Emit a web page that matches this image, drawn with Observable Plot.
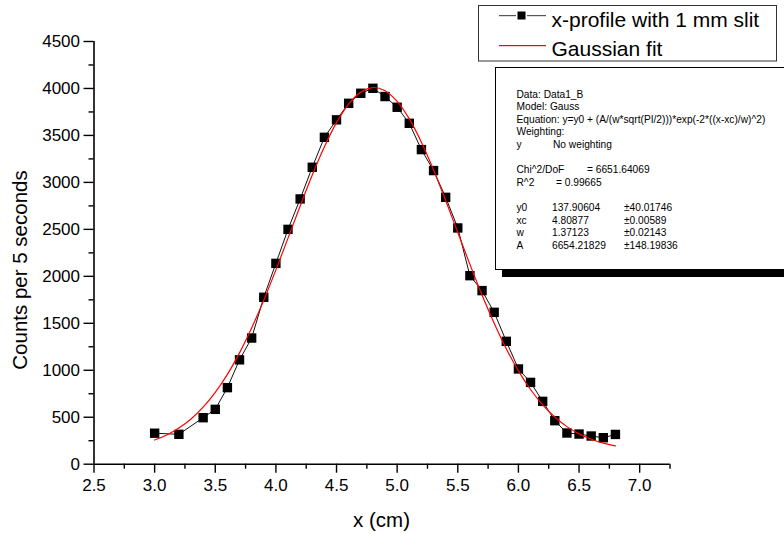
<!DOCTYPE html>
<html>
<head>
<meta charset="utf-8">
<script src="https://cdn.jsdelivr.net/npm/d3@7"></script>
<script src="https://cdn.jsdelivr.net/npm/@observablehq/plot@0.6"></script>
<style>
  html, body { margin: 0; padding: 0; background: #fff; }
  svg { display: block; }
</style>
</head>
<body>
<div id="chart"></div>
<script>
// ---- measured profile (x-profile with 1 mm slit) ----
const profileX = [3.0, 3.2, 3.4, 3.5, 3.6, 3.7, 3.8, 3.9, 4.0, 4.1, 4.2, 4.3, 4.4, 4.5, 4.6, 4.7, 4.8, 4.9,
                  5.0, 5.1, 5.2, 5.3, 5.4, 5.5, 5.6, 5.7, 5.8, 5.9, 6.0, 6.1, 6.2, 6.3, 6.4, 6.5, 6.6, 6.7, 6.8];
const profileY = [330, 318, 495, 584, 815, 1111, 1343, 1777, 2138, 2500, 2824, 3161, 3480, 3666, 3842, 3949, 4002, 3914,
                  3800, 3629, 3349, 3126, 2841, 2515, 2007, 1848, 1617, 1308, 1014, 871, 669, 463, 332, 321, 300, 282, 317];

// ---- Gaussian fit curve ----
const fitX = [3.0, 3.1, 3.2, 3.3, 3.4, 3.5, 3.6, 3.7, 3.8, 3.9, 4.0, 4.1, 4.2, 4.3, 4.4, 4.5, 4.6, 4.7, 4.8, 4.9,
              5.0, 5.1, 5.2, 5.3, 5.4, 5.5, 5.6, 5.7, 5.8, 5.9, 6.0, 6.1, 6.2, 6.3, 6.4, 6.5, 6.6, 6.7, 6.8];
const fitY = [257, 311, 385, 482, 607, 764, 956, 1185, 1450, 1746, 2069, 2407, 2748, 3078, 3379, 3636, 3834, 3961, 4010, 3976,
              3862, 3676, 3428, 3133, 2808, 2467, 2127, 1801, 1500, 1229, 994, 795, 632, 502, 400, 323, 266, 224, 195];

// ---- axes ----
const xMajorTicks = [2.5, 3.0, 3.5, 4.0, 4.5, 5.0, 5.5, 6.0, 6.5, 7.0];
const xMinorTicks = [2.75, 3.25, 3.75, 4.25, 4.75, 5.25, 5.75, 6.25, 6.75, 7.25];
const yMajorTicks = [0, 500, 1000, 1500, 2000, 2500, 3000, 3500, 4000, 4500];
const yMinorTicks = [250, 750, 1250, 1750, 2250, 2750, 3250, 3750, 4250];
const xLabel = "x (cm)";
const yLabel = "Counts per 5 seconds";

// ---- legend ----
const legendLabels = ["x-profile with 1 mm slit", "Gaussian fit"];

// ---- fit report ----
const reportLines = ["Data: Data1_B", "Model: Gauss",
  "Equation: y=y0 + (A/(w*sqrt(PI/2)))*exp(-2*((x-xc)/w)^2)", "Weighting:"];
const weightRow = ["y", "No weighting"];
const chiRow = ["Chi^2/DoF", "= 6651.64069"];
const r2Row = ["R^2", "= 0.99665"];
const paramNames = ["y0", "xc", "w", "A"];
const paramValues = ["137.90604", "4.80877", "1.37123", "6654.21829"];
const paramErrors = ["\u00b140.01746", "\u00b10.00589", "\u00b10.02143", "\u00b1148.19836"];

const profile = profileX.map((x, i) => ({x, y: profileY[i]}));
const fit = fitX.map((x, i) => ({x, y: fitY[i]}));

const FONT = "'Liberation Sans', Arial, Helvetica, sans-serif";

const chart = Plot.plot({
  width: 784,
  height: 534,
  marginLeft: 93.5,
  marginRight: 114.5,
  marginTop: 41,
  marginBottom: 70.3,
  style: {fontFamily: FONT, background: "white", color: "black"},
  x: {domain: [2.5, 7.25]},
  y: {domain: [0, 4500]},
  marks: [
    Plot.axisX(xMajorTicks, {anchor: "bottom", tickSize: 9, tickPadding: 6, fontSize: 17,
      tickFormat: d => d.toFixed(1), label: null, strokeWidth: 1.4}),
    Plot.axisX(xMinorTicks, {anchor: "bottom", tickSize: 5, tickFormat: () => "", label: null, strokeWidth: 1.4}),
    Plot.axisY(yMajorTicks, {anchor: "left", tickSize: 10, tickPadding: 4, fontSize: 17,
      tickFormat: d => String(d), label: null, strokeWidth: 1.4}),
    Plot.axisY(yMinorTicks, {anchor: "left", tickSize: 5, tickFormat: () => "", label: null, strokeWidth: 1.4}),
    Plot.ruleX([2.5], {y1: 0, y2: 4500, stroke: "black", strokeWidth: 1.6}),
    Plot.ruleY([0], {x1: 2.5, x2: 7.25, stroke: "black", strokeWidth: 1.6}),
    Plot.line(profile, {x: "x", y: "y", stroke: "#111", strokeWidth: 1}),
    Plot.dot(profile, {x: "x", y: "y", symbol: "square", r: 5.3, fill: "black", stroke: "none"}),
    Plot.line(fit, {x: "x", y: "y", stroke: "#ff0000", strokeWidth: 1.2, curve: "catmull-rom"})
  ]
});

document.getElementById("chart").appendChild(chart);

// ---- decorations (titles, legend, report) ----
const svg = d3.select(chart);
const deco = svg.append("g").attr("font-family", FONT).attr("fill", "black").attr("text-anchor", "start");

deco.append("text").attr("x", 381.5).attr("y", 527).attr("text-anchor", "middle")
  .attr("font-size", 20.5).text(xLabel);
deco.append("text").attr("transform", "translate(27,270) rotate(-90)").attr("text-anchor", "middle")
  .attr("font-size", 20.5).text(yLabel);

// legend
const lg = deco.append("g");
lg.append("rect").attr("x", 478.5).attr("y", 5.5).attr("width", 298).attr("height", 55.5)
  .style("fill", "white").style("stroke", "#333").style("stroke-width", "1px");
lg.append("rect").attr("x", 499).attr("y", 15).attr("width", 17).attr("height", 1.2).style("fill", "#555").style("stroke", "none");
lg.append("rect").attr("x", 527).attr("y", 15).attr("width", 19).attr("height", 1.2).style("fill", "#555").style("stroke", "none");
lg.append("rect").attr("x", 517.5).attr("y", 11.5).attr("width", 8).attr("height", 8).style("fill", "black").style("stroke", "none");
lg.append("rect").attr("x", 499).attr("y", 45).attr("width", 47).attr("height", 1.2).style("fill", "#ff0000").style("stroke", "none");
lg.append("text").attr("x", 551.5).attr("y", 27).attr("font-size", 21).text(legendLabels[0]);
lg.append("text").attr("x", 551.5).attr("y", 56).attr("font-size", 21).text(legendLabels[1]);

// fit report box
const rb = deco.append("g");
rb.append("rect").attr("x", 502).attr("y", 270).attr("width", 300).attr("height", 7).style("fill", "black").style("stroke", "none");
rb.append("rect").attr("x", 495.5).attr("y", 67.5).attr("width", 300).attr("height", 202)
  .style("fill", "white").style("stroke", "black").style("stroke-width", "1px");
const rt = rb.append("g").attr("font-size", 10.2);
const base = 97.5, lh = 12.6, x0 = 516.5;
reportLines.forEach((s, i) => rt.append("text").attr("x", x0).attr("y", base + i * lh).text(s));
rt.append("text").attr("x", x0).attr("y", base + 4 * lh).text(weightRow[0]);
rt.append("text").attr("x", 553).attr("y", base + 4 * lh).text(weightRow[1]);
rt.append("text").attr("x", x0).attr("y", base + 6 * lh).text(chiRow[0]);
rt.append("text").attr("x", 587).attr("y", base + 6 * lh).text(chiRow[1]);
rt.append("text").attr("x", x0).attr("y", base + 7 * lh).text(r2Row[0]);
rt.append("text").attr("x", 556).attr("y", base + 7 * lh).text(r2Row[1]);
paramNames.forEach((n, i) => {
  const y = base + (9 + i) * lh;
  rt.append("text").attr("x", x0).attr("y", y).text(n);
  rt.append("text").attr("x", 552).attr("y", y).text(paramValues[i]);
  rt.append("text").attr("x", 624).attr("y", y).text(paramErrors[i]);
});
</script>
</body>
</html>
